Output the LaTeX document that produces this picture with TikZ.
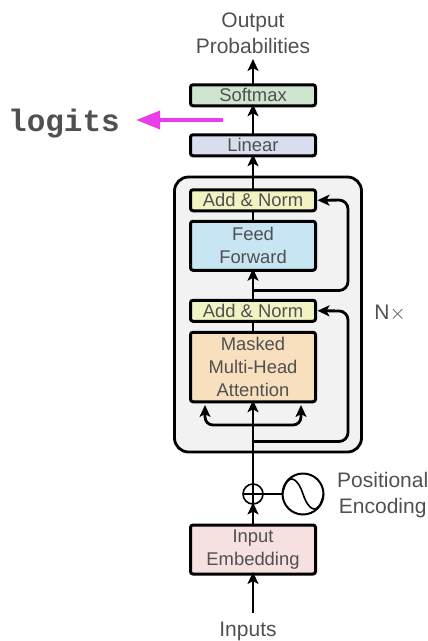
\documentclass[tikz,border=0pt]{standalone}
\usepackage{fontspec}
\setmainfont{Liberation Sans}
\newfontfamily\logitsfont{Liberation Mono}
\usetikzlibrary{arrows.meta,positioning}
\definecolor{softmaxfill}{HTML}{D0E5D0}
\definecolor{linearfill}{HTML}{DADDED}
\definecolor{normfill}{HTML}{F2F3C3}
\definecolor{forwardfill}{HTML}{C8E5F3}
\definecolor{maskedfill}{HTML}{F8E0BF}
\definecolor{embedfill}{HTML}{F7E0E0}
\definecolor{stackfill}{HTML}{F2F2F2}
\definecolor{labelgray}{HTML}{505050}
\definecolor{arrowpink}{HTML}{EA3DEA}
\tikzset{
  basic/.style  = {draw, line width=3pt, rounded corners=2.5pt, align=center, inner sep=0pt, outer sep=0pt,
                   minimum width=125pt, text=labelgray, font=\fontsize{18.4}{23}\selectfont},
  thin box/.style  = {basic, minimum height=21pt},
  mid box/.style   = {basic, minimum height=49pt},
  tall box/.style  = {basic, minimum height=69.5pt},
  caption/.style   = {align=center, inner sep=0pt, text=labelgray, font=\fontsize{21}{26}\selectfont},
  wire/.style      = {line width=2.8pt},
  link/.style      = {wire, -{Stealth[length=12pt,width=11pt,inset=3pt]}},
}

\begin{document}
\begin{tikzpicture}[x=1pt,y=-1pt]
\useasboundingbox (0,0) rectangle (428,641);

% outer repeated block
\node[draw, line width=2.8pt, rounded corners=14pt, fill=stackfill, minimum width=187pt, minimum height=275pt,
      inner sep=0pt, outer sep=0pt] (stack) at (268,314.5) {};

% decoder boxes, from the bottom up
\node[tall box, fill=maskedfill] (masked) at (253,367) {Masked\\Multi-Head\\Attention};
\node[thin box, fill=normfill, above=11pt of masked] (norm1) {Add \& Norm};
\node[mid box, fill=forwardfill, above=30pt of norm1] (forward) {Feed\\Forward};
\node[thin box, fill=normfill, above=10.5pt of forward] (norm2) {Add \& Norm};
\node[thin box, fill=linearfill, above=34pt of norm2] (linear) {Linear};
\node[thin box, fill=softmaxfill, above=29pt of linear] (softmax) {Softmax};
\node[caption] (outputs) at (253,33) {Output\\Probabilities};

% input side
\node[mid box, fill=embedfill] (embed) at (253,549.5) {Input\\Embedding};
\node[caption] (inputs) at (248,631) {Inputs};
\node[draw, circle, line width=1.6pt, minimum size=20pt, inner sep=0pt, outer sep=0pt] (plus) at (253,494) {};
\node[draw, circle, line width=2pt, minimum size=41pt, inner sep=0pt, outer sep=0pt] (wave) at (303,494) {};
\node[caption, anchor=west] (posenc) at (337,495.5) {Positional\\Encoding};
\node[caption] (times) at (390,313) {N$\times$};
\node[inner sep=0pt, text=labelgray, font=\logitsfont\bfseries\fontsize{31}{31}\selectfont] (logits) at (64,124) {logits};

\coordinate (logitsstart) at (223,120);
\coordinate (logitsend) at (136,120);
\coordinate (tap1) at (253,290.5);
\coordinate (tap2) at (253,441.5);
\coordinate (split) at (253,425);
\coordinate (left) at (205,405);
\coordinate (right) at (301,405);
\coordinate (inputstart) at (253,613);
\coordinate (outputend) at (253,59);

% plus sign and sine curve
\draw[line width=1.4pt] (plus.north) -- (plus.south);
\draw[line width=1.4pt] (plus.west) -- (plus.east);
\draw[line width=1.6pt] (wave.west) .. controls (287,472) and (297,476) .. (wave.center)
  .. controls (309,512) and (319,516) .. (wave.east);

% straight arrows
\foreach \from/\to in {linear/softmax, norm2/linear, norm1/forward, plus/masked, embed/plus}
  \draw[link] (\from.north) -- ([yshift=1.5pt]\to.south);
\draw[link] (softmax.north) -- (outputend);
\draw[wire] (forward) -- (norm2);
\draw[wire] (masked) -- (norm1);
\draw[link] (inputstart) -- ([yshift=2pt]embed.south);
\draw[wire] (plus) -- (wave);

% residual connections
\draw[link, rounded corners=9pt] (tap1) -| (348,200) -- ([xshift=2pt]norm2.east);
\draw[link, rounded corners=9pt] (tap2) -| (348,311) -- ([xshift=2pt]norm1.east);
\draw[link, rounded corners=8pt] (split) -| (left);
\draw[link, rounded corners=8pt] (split) -| (right);

% logits pointer
\draw[arrowpink, line width=3.4pt, -{Triangle[length=24pt,width=18pt]}] (logitsstart) -- (logitsend);
\end{tikzpicture}
\end{document}
